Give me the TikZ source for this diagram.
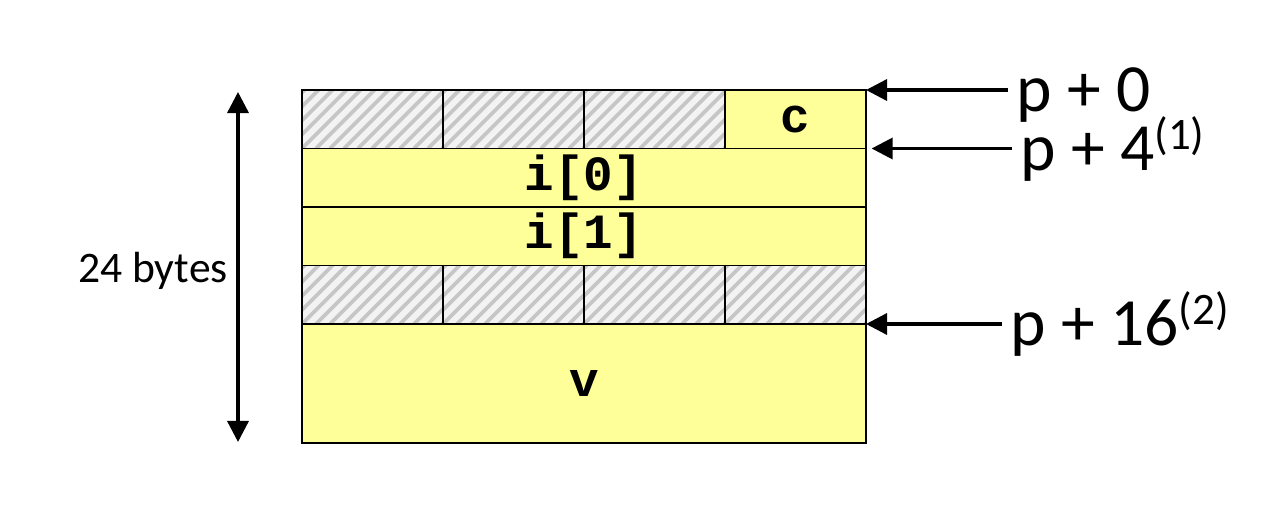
\documentclass[tikz,border=0pt]{standalone}
\usepackage{fontspec}
\setmainfont{Carlito}
\newfontfamily\codefont{Liberation Mono}
\usetikzlibrary{positioning,calc,arrows.meta}
\definecolor{cellyellow}{RGB}{255,255,153}
\definecolor{hatchgray}{RGB}{198,198,198}
\definecolor{hatchbg}{RGB}{243,243,243}

\tikzset{
    cell/.style={draw,line width=1.4pt,inner sep=0pt,outer sep=0pt,
        minimum width=141*0.025cm,minimum height=58.5*0.025cm},
    varcell/.style={cell,fill=cellyellow,font={\codefont\bfseries\fontsize{35}{37}\selectfont}},
    padcell/.style={cell,fill=hatchbg,
        path picture={
            \foreach \k in {-6,...,11}
                \draw[hatchgray,line width=2.6pt]
                    ($(path picture bounding box.south west)+(\k*14,0)$) -- ++(80,-80);
        }},
    offset/.style={font=\fontsize{48}{52}\selectfont,anchor=west,
        text height=31pt,text depth=0pt,inner xsep=6pt,inner ysep=0pt},
    ptr/.style={-{Triangle[length=15pt,width=15pt]},line width=2.4pt},
}

\begin{document}
\begin{tikzpicture}[x=0.025cm,y=-0.025cm]
    \useasboundingbox (0,0) rectangle (1272,510);
    % first word: three padding bytes and c
    \node[padcell,anchor=north west] (pa1) at (302,90) {};
    \node[padcell,right=0pt of pa1] (pa2) {};
    \node[padcell,right=0pt of pa2] (pa3) {};
    \node[varcell,right=0pt of pa3] (c) {c};
    % the two ints
    \node[varcell,minimum width=564*0.025cm,below=0pt of pa1.south west,anchor=north west] (i0) {i[0]};
    \node[varcell,minimum width=564*0.025cm,below=0pt of i0] (i1) {i[1]};
    % padding before v
    \node[padcell,below=0pt of i1.south west,anchor=north west] (pb1) {};
    \node[padcell,right=0pt of pb1] (pb2) {};
    \node[padcell,right=0pt of pb2] (pb3) {};
    \node[padcell,right=0pt of pb3] (pb4) {};
    \node[varcell,minimum width=564*0.025cm,minimum height=119*0.025cm,
        below=0pt of pb1.south west,anchor=north west] (v) {v};

    % offsets
    \node[offset] (p0) at ($(c.north east)+(142,0)$) {p + 0};
    \node[offset] (p4) at ($(i0.north east)+(146,0)$) {p + 4\raisebox{15pt}{\fontsize{32}{34}\selectfont(1)}};
    \node[offset] (p16) at ($(pb4.south east)+(136,0)$) {p + 16\raisebox{15pt}{\fontsize{32}{34}\selectfont(2)}};
    \draw[ptr] (p0) -- (c.north east);
    \draw[ptr,shorten >=4pt] (p4) -- (i0.north east);
    \draw[ptr] (p16) -- (pb4.south east);

    % total size
    \coordinate (top) at ($(pa1.north west)+(-64,2)$);
    \coordinate (bot) at ($(v.south west)+(-64,-1)$);
    \draw[{Triangle[length=15pt,width=15pt]}-{Triangle[length=15pt,width=15pt]},line width=2.4pt] (top) -- (bot);
    \node[font=\fontsize{31}{34}\selectfont,anchor=base east,inner sep=0pt] (size) at (228,283) {24 bytes};
\end{tikzpicture}
\end{document}
